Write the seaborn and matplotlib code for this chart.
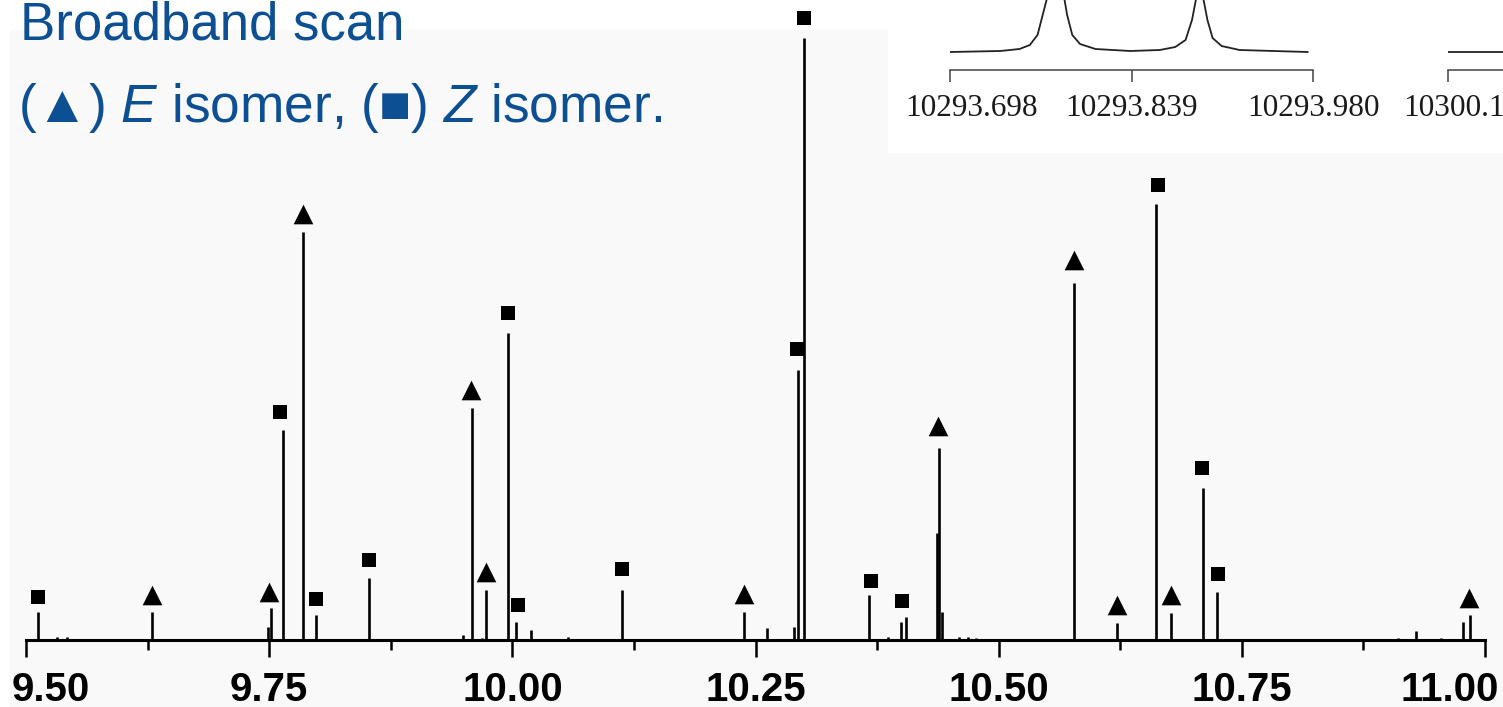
import seaborn as sns
import matplotlib.pyplot as plt
import matplotlib.transforms as mtransforms
from matplotlib.patches import Rectangle
from matplotlib.ticker import MultipleLocator

# broadband stick spectrum: frequency (GHz) and intensity (% of strongest line)
freq = [9.512, 9.532, 9.542, 9.630, 9.749, 9.752, 9.764, 9.785, 9.798, 9.853,
        9.949, 9.959, 9.969, 9.973, 9.996, 10.004, 10.019, 10.057, 10.113, 10.238,
        10.262, 10.290, 10.294, 10.300, 10.367, 10.386, 10.400, 10.405, 10.437, 10.439,
        10.442, 10.459, 10.468, 10.477, 10.577, 10.622, 10.662, 10.677, 10.710, 10.724,
        10.911, 10.929, 10.955, 10.977, 10.985]
inten = [4.7, 0.5, 0.5, 4.7, 2.2, 5.3, 34.9, 67.8, 4.2, 10.3,
         0.8, 38.5, 0.3, 8.3, 51.0, 3.0, 1.7, 0.5, 8.3, 4.7,
         2.0, 2.2, 44.9, 100.0, 7.5, 0.5, 3.0, 3.8, 17.8, 31.9,
         4.7, 0.5, 0.5, 0.3, 59.3, 2.8, 72.4, 4.5, 25.2, 8.0,
         0.3, 1.5, 0.3, 3.0, 4.2]

# assignment markers
E_freq = [9.630, 9.750, 9.785, 9.958, 9.973, 10.238, 10.438, 10.577, 10.622, 10.677, 10.984]
E_y = [7.5, 8.0, 70.8, 41.5, 11.3, 7.6, 35.5, 63.1, 5.8, 7.5, 7.0]
Z_freq = [9.512, 9.761, 9.798, 9.853, 9.996, 10.006, 10.113, 10.293, 10.300, 10.369,
          10.401, 10.664, 10.709, 10.725]
Z_y = [7.1, 37.9, 6.8, 13.3, 54.3, 5.8, 11.8, 48.3, 103.3, 9.8, 6.5, 75.6, 28.6, 11.0]

main_ticks = [9.50, 9.75, 10.00, 10.25, 10.50, 10.75, 11.00]
main_labels = ["9.50", "9.75", "10.00", "10.25", "10.50", "10.75", "11.00"]

# high resolution inset (MHz), peak tops run off the picture
ins_freq = [10293.698, 10293.737, 10293.752, 10293.760, 10293.766, 10293.770, 10293.773,
            10293.780, 10293.787, 10293.789, 10293.793, 10293.799, 10293.811, 10293.838,
            10293.861, 10293.873, 10293.881, 10293.886, 10293.889, 10293.892, 10293.895,
            10293.898, 10293.902, 10293.909, 10293.923, 10293.976]
ins_int = [18, 19, 21, 25, 35, 55, 70, 250, 70, 55, 35, 26, 21, 19,
           20, 23, 30, 50, 70, 230, 70, 50, 32, 24, 20, 18]
ins_ticks = [10293.698, 10293.839, 10293.980]
ins_labels = ["10293.698", "10293.839", "10293.980"]
ins2_freq = [10300.120, 10300.200]
ins2_int = [18, 18]
ins2_ticks = [10300.120]
ins2_labels = ["10300.1"]

sns.set_style("white")
plt.rcParams['font.family'] = ['Liberation Sans', 'DejaVu Sans']
plt.rcParams['mathtext.fontset'] = 'custom'
plt.rcParams['mathtext.rm'] = 'Liberation Sans'
plt.rcParams['mathtext.it'] = 'Liberation Sans:italic'

W, H = 1503, 707
fig = plt.figure(figsize=(W / 100, H / 100), dpi=100)
fig.patch.set_facecolor('white')

# off-white panel behind the spectrum, white box behind the inset
fig.patches.append(Rectangle((10 / W, 0), 1, (H - 30) / H, transform=fig.transFigure,
                             color='#f9f9f9', zorder=-1))
fig.patches.append(Rectangle((888 / W, (H - 152) / H), 1, 1, transform=fig.transFigure,
                             color='white', zorder=1))

ax = fig.add_axes([26 / W, 67 / H, 1459 / W, 640 / H])
ax.set_facecolor('none')
ax.vlines(freq, 0, inten, color='black', lw=1.9)
sns.scatterplot(x=E_freq, y=E_y, marker='^', s=200, color='black', linewidth=0, ax=ax, clip_on=False)
sns.scatterplot(x=Z_freq, y=Z_y, marker='s', s=88, color='black', linewidth=0, ax=ax, clip_on=False)
ax.set_xlim(9.5, 11.0)
ax.set_ylim(0, 640 / 602 * 100)
for s in ['top', 'right', 'left']:
    ax.spines[s].set_visible(False)
ax.spines['bottom'].set_linewidth(2.2)
ax.spines['bottom'].set_color('black')
ax.set_yticks([])
ax.set_xticks(main_ticks)
ax.set_xticklabels(main_labels)
ax.xaxis.set_minor_locator(MultipleLocator(0.125))
ax.tick_params(axis='x', which='major', direction='out', length=12, width=1.8,
               color='black', pad=10, labelsize=29, labelcolor='black', bottom=True)
ax.tick_params(axis='x', which='minor', direction='out', length=7, width=1.8,
               color='black', bottom=True)
for lab in ax.get_xticklabels():
    lab.set_fontweight('bold')
ticks = ax.xaxis.get_major_ticks()
shifts = {0: 25, len(ticks) - 1: -35}
for i, dx in shifts.items():
    lab = ticks[i].label1
    lab.set_transform(lab.get_transform() + mtransforms.ScaledTranslation(dx / 100, 0, fig.dpi_scale_trans))

# inset: zoom on the strongest line
ins = fig.add_axes([950 / W, (H - 70) / H, 363 / W, 100 / H], zorder=2)
ins.set_facecolor('none')
sns.lineplot(x=ins_freq, y=ins_int, sort=False, estimator=None, color='#222222', lw=1.3, ax=ins)
ins.set_xlim(ins_ticks[0], ins_ticks[-1])
ins.set_ylim(0, 100)
ins2 = fig.add_axes([1448 / W, (H - 70) / H, 363 / W, 100 / H], zorder=2)
ins2.set_facecolor('none')
sns.lineplot(x=ins2_freq, y=ins2_int, sort=False, estimator=None, color='#222222', lw=1.3, ax=ins2)
ins2.set_xlim(10300.120, 10300.402)
ins2.set_ylim(0, 100)
for a, tk, tl in [(ins, ins_ticks, ins_labels), (ins2, ins2_ticks, ins2_labels)]:
    for s in ['top', 'right', 'left']:
        a.spines[s].set_visible(False)
    a.spines['bottom'].set_linewidth(1.1)
    a.spines['bottom'].set_color('#444444')
    a.set_yticks([])
    a.set_xticks(tk)
    a.set_xticklabels(tl)
    a.tick_params(axis='x', direction='out', length=8.6, width=1.1, color='#444444',
                  pad=9, labelsize=22.5, labelcolor='#1a1a1a', bottom=True)
    for lab in a.get_xticklabels():
        lab.set_fontfamily('Liberation Serif')
for a, dx in [(ins, 0.22), (ins2, 0.06)]:
    lab = a.xaxis.get_major_ticks()[0].label1
    lab.set_transform(lab.get_transform() + mtransforms.ScaledTranslation(dx, 0, fig.dpi_scale_trans))

blue = '#0d4f93'
fig.text(20 / W, 1 - 39 / H, "Broadband scan", fontsize=38, color=blue,
         va='baseline', ha='left', zorder=5)
fig.text(18 / W, 1 - 122 / H, r"(▲) $\mathit{E}$ isomer, (■) $\mathit{Z}$ isomer.",
         fontsize=38.3, color=blue, va='baseline', ha='left', zorder=5)

fig.savefig("out.png", dpi=100)
